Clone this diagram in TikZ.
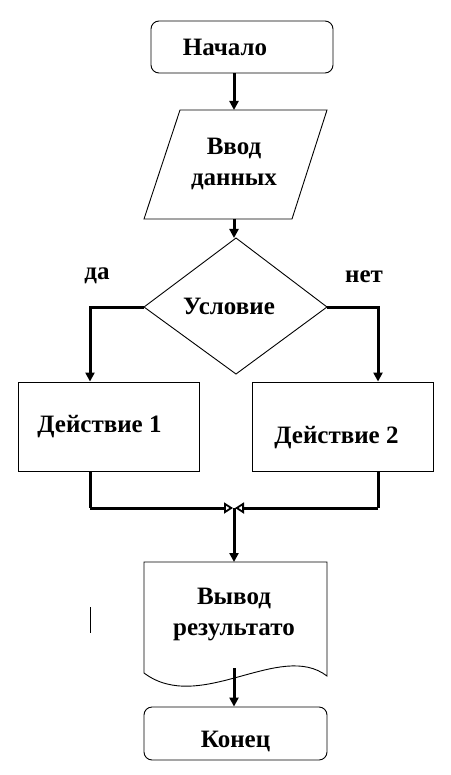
\documentclass[tikz,border=0pt]{standalone}
\usepackage{fontspec}
\setmainfont{Liberation Serif}
\usetikzlibrary{arrows.meta}
\begin{document}
\begin{tikzpicture}[x=1pt,y=-1pt,
  txt/.style={font=\bfseries\fontsize{25}{31}\selectfont, inner sep=0pt, align=center},
  box/.style={draw, line width=0.9pt, inner sep=0pt},
  term/.style={box, rounded corners=8pt},
  flow/.style={line width=3pt, -{Triangle[length=9pt,width=9pt]}},
  merge/.style={line width=3pt, -{Triangle[open,length=9pt,width=11pt,line width=1.8pt]}},
  link/.style={line width=3pt}
]
\useasboundingbox (0,0) rectangle (450,775);
\fill[white] (0,0) rectangle (450,775);

% Start
\node[term, minimum width=182pt, minimum height=52pt,
      label={[txt, xshift=-17pt]center:Начало}] (start) at (242,47) {};

% Input parallelogram
\draw[line width=0.9pt] (180,110) -- (327,110) -- (292,219) -- (144,219) -- cycle;
\coordinate (inT) at (234,110);
\coordinate (inB) at (234,219);
\node[txt] (inTxt) at (234,164) {Ввод\\данных};

% Decision diamond
\draw[line width=0.9pt] (236,238) -- (327,307) -- (236,374) -- (144,307) -- cycle;
\coordinate (dT) at (234,238);
\coordinate (dL) at (144,307);
\coordinate (dR) at (327,307);
\node[txt] (dTxt) at (229,306) {Условие};
\node[txt] (yes) at (97,276) {да};
\node[txt] (no) at (364,277) {нет};

% Actions
\node[box, minimum width=181pt, minimum height=89pt,
      label={[txt, xshift=-9pt]center:Действие 1}] (a1) at (108.5,426.5) {};
\node[box, minimum width=181pt, minimum height=89pt,
      label={[txt, xshift=-6pt, yshift=-11pt]center:Действие 2}] (a2) at (342.5,426.5) {};

% Output document
\draw[line width=0.9pt] (144,562) -- (327,562) -- (327,676)
  .. controls (280,640) and (200,715) .. (144,673) -- cycle;
\coordinate (oT) at (234,562);
\coordinate (oB) at (234,668);
\node[txt] (oTxt) at (234,615) {Вывод\\результато};
\draw[line width=0.9pt] (90,607) -- (90,633);

% End
\node[term, minimum width=183pt, minimum height=53pt,
      label={[txt, yshift=-8pt]center:Конец}] (end) at (235.5,733.5) {};

% Connectors
\coordinate (mL) at (90,508);
\coordinate (mR) at (378,508);
\coordinate (m) at (234,508);
\draw[flow] (start.south -| inT) -- (inT);
\draw[flow] (inB) -- (dT);
\draw[flow] (dL) -| (a1.north -| mL);
\draw[flow] (dR) -| (a2.north -| mR);
\draw[link] (a1.south -| mL) -- (mL);
\draw[merge] (mL) -- ([xshift=-1pt]m);
\draw[link] (a2.south -| mR) -- (mR);
\draw[merge] (mR) -- ([xshift=1pt]m);
\draw[flow] (m) -- (oT);
\draw[flow] (oB) -- (end.north -| oB);
\end{tikzpicture}
\end{document}
